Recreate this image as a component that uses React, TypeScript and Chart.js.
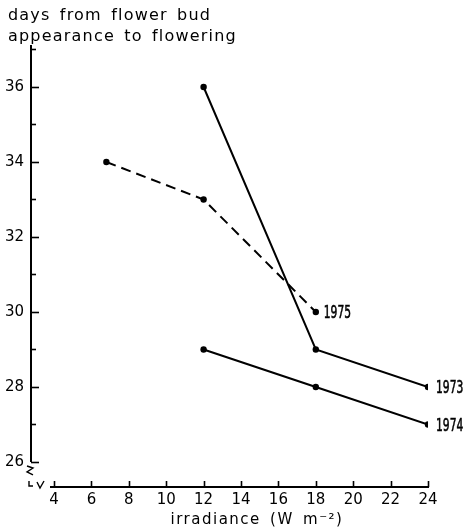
import React, { useEffect, useRef } from 'react';
import { Chart, registerables } from 'chart.js';

Chart.register(...registerables);

// ---- data ----
const irradiance1973 = [12, 18, 24];
const days1973 = [36, 29, 28];
const irradiance1974 = [12, 18, 24];
const days1974 = [29, 28, 27];
const irradiance1975 = [6.8, 12, 18];
const days1975 = [34, 33, 30];
const seriesNames = ['1973', '1974', '1975'];

const xTickValues = [4, 6, 8, 10, 12, 14, 16, 18, 20, 22, 24];
const yTickValues = [26, 28, 30, 32, 34, 36];
const yMinorTickValues = [27, 29, 31, 33, 35, 37];
const yTitleLines = ['days from flower bud', 'appearance to flowering'];
const xTitle = 'irradiance (W m\u207B\u00B2)';

const FONT = '"DejaVu Sans", sans-serif';

const toPoints = (xs: number[], ys: number[]) => xs.map((x, i) => ({ x, y: ys[i] }));

const paperAxes = {
  id: 'paperAxes',
  afterDraw(chart: any) {
    const ctx = chart.ctx as CanvasRenderingContext2D;
    const xs = chart.scales.x;
    const ys = chart.scales.y;
    const area = chart.chartArea;
    const ax = area.left;
    const ab = area.bottom;
    ctx.save();
    ctx.strokeStyle = '#000';
    ctx.fillStyle = '#000';
    ctx.lineCap = 'butt';

    // y axis line
    const y26 = ys.getPixelForValue(yTickValues[0]);
    ctx.lineWidth = 2;
    ctx.beginPath();
    ctx.moveTo(ax, area.top);
    ctx.lineTo(ax, y26);
    ctx.stroke();
    // y ticks (inward)
    ctx.lineWidth = 1.6;
    yTickValues.forEach((v) => {
      const p = Math.round(ys.getPixelForValue(v)) + 0.5;
      ctx.beginPath();
      ctx.moveTo(ax, p);
      ctx.lineTo(ax + 8, p);
      ctx.stroke();
    });
    yMinorTickValues.forEach((v) => {
      const p = Math.round(ys.getPixelForValue(v)) + 0.5;
      ctx.beginPath();
      ctx.moveTo(ax, p);
      ctx.lineTo(ax + 5, p);
      ctx.stroke();
    });

    // axis break marks
    ctx.lineWidth = 1.4;
    ctx.beginPath();
    ctx.moveTo(ax - 4, y26 + 4);
    ctx.lineTo(ax + 2, y26 + 6);
    ctx.lineTo(ax - 4, y26 + 10);
    ctx.lineTo(ax + 2, y26 + 13);
    ctx.stroke();
    ctx.beginPath();
    ctx.moveTo(ax - 2, ab - 6);
    ctx.lineTo(ax - 2, ab - 1);
    ctx.lineTo(ax + 2, ab - 1);
    ctx.stroke();
    ctx.beginPath();
    ctx.moveTo(ax + 6, ab - 5);
    ctx.lineTo(ax + 9, ab + 1);
    ctx.lineTo(ax + 13, ab - 6);
    ctx.stroke();

    // x axis line
    const x0 = xs.getPixelForValue(xTickValues[0]);
    const x1 = xs.getPixelForValue(xTickValues[xTickValues.length - 1]);
    ctx.lineWidth = 2;
    ctx.beginPath();
    ctx.moveTo(x0 - 4, ab);
    ctx.lineTo(x1 + 1, ab);
    ctx.stroke();
    ctx.lineWidth = 1.6;
    xTickValues.forEach((v) => {
      const p = Math.round(xs.getPixelForValue(v)) + 0.5;
      ctx.beginPath();
      ctx.moveTo(p, ab);
      ctx.lineTo(p, ab - 6);
      ctx.stroke();
    });

    // titles
    ctx.font = `16px ${FONT}`;
    (ctx as any).letterSpacing = '1.2px';
    (ctx as any).wordSpacing = '3px';
    ctx.textAlign = 'left';
    ctx.textBaseline = 'alphabetic';
    ctx.fillText(yTitleLines[0], 8, 20);
    ctx.fillText(yTitleLines[1], 8, 41);
    ctx.font = `15px ${FONT}`;
    (ctx as any).letterSpacing = '1.5px';
    ctx.textAlign = 'center';
    ctx.fillText(xTitle, 257, 524);

    // series labels next to the last point (condensed digits)
    (ctx as any).letterSpacing = '0px';
    (ctx as any).wordSpacing = '0px';
    ctx.font = `17px ${FONT}`;
    ctx.textAlign = 'left';
    ctx.textBaseline = 'middle';
    ctx.lineWidth = 0.6;
    chart.data.datasets.forEach((ds: any, i: number) => {
      const meta = chart.getDatasetMeta(i);
      const last = meta.data[meta.data.length - 1];
      ctx.save();
      ctx.translate(last.x + 8, last.y + 2);
      ctx.scale(0.63, 1);
      ctx.fillText(ds.label, 0, 0);
      ctx.strokeText(ds.label, 0, 0);
      ctx.restore();
    });
    ctx.restore();
  },
};

export default function App() {
  const ref = useRef<HTMLCanvasElement | null>(null);
  useEffect(() => {
    if (!ref.current) return;
    const lineStyle = {
      borderColor: '#000',
      borderWidth: 2,
      pointRadius: 3.2,
      pointBackgroundColor: '#000',
      pointBorderWidth: 0,
      showLine: true,
      tension: 0,
      fill: false,
    };
    const chart = new Chart(ref.current, {
      type: 'line',
      data: {
        datasets: [
          { ...lineStyle, label: seriesNames[0], data: toPoints(irradiance1973, days1973) },
          { ...lineStyle, label: seriesNames[1], data: toPoints(irradiance1974, days1974) },
          { ...lineStyle, label: seriesNames[2], data: toPoints(irradiance1975, days1975), borderDash: [10, 6] },
        ],
      },
      options: {
        animation: false,
        responsive: false,
        layout: { padding: { left: 0, right: 35, top: 45, bottom: 0 } },
        plugins: {
          legend: { display: false },
          tooltip: { enabled: false },
          title: { display: false },
        },
        scales: {
          x: {
            type: 'linear',
            min: 2.77,
            max: 24,
            grid: { display: false, drawTicks: false },
            border: { display: false },
            afterBuildTicks: (s: any) => {
              s.ticks = xTickValues.map((v) => ({ value: v }));
            },
            afterFit: (s: any) => {
              s.height = 41;
            },
            ticks: {
              padding: 4,
              autoSkip: false,
              maxRotation: 0,
              color: '#000',
              font: { family: FONT, size: 15 },
              callback: (v: any) => String(v),
            },
          },
          y: {
            type: 'linear',
            min: 25.333,
            max: 37.12,
            grid: { display: false, drawTicks: false },
            border: { display: false },
            afterBuildTicks: (s: any) => {
              s.ticks = yTickValues.map((v) => ({ value: v }));
            },
            afterFit: (s: any) => {
              s.width = 31;
            },
            ticks: {
              padding: 7,
              autoSkip: false,
              color: '#000',
              font: { family: FONT, size: 15 },
              callback: (v: any) => String(v),
            },
          },
        },
      },
      plugins: [paperAxes],
    } as any);
    return () => chart.destroy();
  }, []);
  return (
    <div style={{ position: 'absolute', left: 0, top: 0, width: 463, height: 528, background: '#fff' }}>
      <canvas ref={ref} width={463} height={528} />
    </div>
  );
}
